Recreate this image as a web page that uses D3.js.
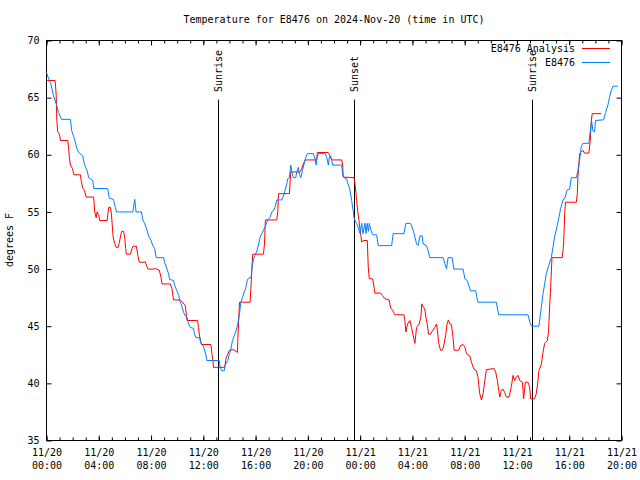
<!DOCTYPE html>
<html><head><meta charset="utf-8">
<script src="https://cdn.jsdelivr.net/npm/d3@7"></script>
<style>
body{margin:0;background:#fff;}
svg text{font-family:"DejaVu Sans Mono",monospace;font-size:10px;fill:#000;}
</style></head>
<body><svg id="c" width="640" height="480"></svg>
<script>
const titleText = "Temperature for E8476 on 2024-Nov-20 (time in UTC)";
const yLabel = "degrees F";
const yTicks = [35,40,45,50,55,60,65,70];
const seriesNames = ["E8476 Analysis","E8476"];
const seriesColors = ["#ff0000","#0080ff"];
const eventNames = ["Sunrise","Sunset","Sunrise"];
const eventHours = [13.14,23.53,37.13];
// hours since 2024-11-20 00:00 UTC
const obsHours = [0.00,0.15,0.31,0.53,0.76,0.92,1.15,1.83,1.93,2.14,2.31,2.47,2.77,2.90,3.11,3.23,3.54,3.61,4.68,4.81,5.12,5.27,5.35,6.61,6.75,6.85,7.26,7.39,7.51,7.69,7.81,8.00,8.12,8.27,8.40,8.96,9.04,9.22,9.34,9.42,9.72,9.80,9.98,10.11,10.24,10.37,10.49,10.62,10.75,10.87,11.00,11.25,11.33,11.44,11.76,11.82,12.02,12.22,12.27,13.22,13.29,13.42,13.60,13.67,13.88,14.00,14.11,14.23,14.38,14.51,14.64,14.77,14.87,15.00,15.13,15.26,15.38,15.66,15.74,15.84,15.97,16.10,16.22,16.35,16.48,16.60,16.73,16.86,16.98,17.11,17.24,17.36,17.49,17.62,18.00,18.13,18.26,18.39,18.46,18.59,18.69,18.77,18.89,19.07,19.15,19.27,19.35,19.46,19.58,19.71,19.84,19.96,20.42,20.55,20.63,20.68,20.80,21.31,21.44,21.57,21.64,21.75,21.82,21.90,22.59,22.66,22.76,22.97,23.05,23.15,23.22,23.35,23.47,23.53,23.60,23.73,23.83,23.99,24.12,24.22,24.37,24.45,24.54,24.63,24.70,24.83,24.96,25.26,25.39,26.41,26.53,27.35,27.50,27.86,28.06,28.19,28.32,28.44,28.57,28.75,28.82,29.08,29.20,29.33,30.35,30.48,30.61,30.73,31.04,31.17,31.88,32.01,32.19,32.39,32.44,32.85,32.95,33.02,34.43,34.51,34.61,36.85,36.92,37.03,37.13,37.68,37.87,37.99,38.12,38.25,38.42,38.63,38.75,38.88,39.06,39.21,39.34,39.52,39.70,39.82,40.03,40.16,40.54,40.66,40.79,40.92,41.04,41.50,41.61,41.71,41.81,41.94,42.01,42.63,42.78,42.95,43.08,43.21,43.34,43.72];
const obsTemps = [67.2,66.7,66.3,65.2,64.4,63.7,63.1,63.1,62.1,61.4,60.6,60.2,59.9,59.2,58.6,58.0,57.75,57.05,57.05,56.2,56.1,55.4,55.0,55.0,56.1,55.0,55.0,54.25,54.0,53.4,52.9,52.5,52.1,51.8,51.0,51.0,50.6,50.0,49.6,49.1,49.0,48.6,48.1,47.7,47.1,46.7,46.2,45.9,45.8,45.2,44.9,44.8,44.3,44.0,44.0,43.5,43.2,42.4,42.0,42.0,41.4,41.1,41.1,41.6,42.0,42.6,43.0,43.75,44.2,44.6,45.2,46.1,47.1,47.5,48.0,48.4,49.1,49.3,50.2,50.9,51.2,51.6,52.1,52.8,53.1,53.4,53.7,54.1,54.4,54.55,55.0,55.1,55.4,56.05,56.05,56.4,56.9,57.5,57.9,58.0,59.1,58.5,58.0,58.0,58.5,58.9,58.3,58.0,58.6,59.2,59.8,60.1,60.1,59.65,59.1,59.65,60.1,60.1,59.8,59.1,59.8,59.9,59.5,59.1,59.1,58.3,58.0,57.9,57.5,57.2,56.9,56.0,55.1,54.5,54.25,54.0,53.7,53.1,54.0,53.1,54.0,53.1,54.0,53.3,54.0,53.4,53.0,53.0,52.05,52.05,53.1,53.1,54.0,54.0,53.4,52.8,52.2,52.05,52.9,52.9,52.2,52.05,51.6,51.0,51.0,50.5,50.0,51.0,51.0,50.0,50.0,49.15,49.0,48.3,48.1,48.1,47.4,47.1,47.1,46.5,46.0,46.0,45.65,45.2,45.0,45.0,46.7,47.8,48.7,49.6,50.3,51.0,51.9,52.8,53.7,54.5,55.3,56.0,56.3,56.9,57.0,58.0,58.0,58.6,59.5,60.7,61.0,61.0,62.1,63.0,62.1,62.0,63.0,63.06,63.7,64.3,65.0,65.6,66.0,66.0];
const anaHours = [0.05,0.66,0.74,0.79,0.86,0.99,1.07,1.63,1.70,1.76,1.83,1.99,2.09,2.60,2.65,2.77,2.90,3.03,3.61,3.69,3.80,3.87,4.00,4.07,4.64,4.68,4.76,4.89,4.97,5.04,5.10,5.19,5.32,5.48,5.58,5.65,5.75,5.90,5.98,6.06,6.11,6.42,6.55,6.62,6.88,6.97,7.10,7.49,7.56,7.69,7.77,8.20,8.33,8.63,8.76,8.84,9.47,9.60,9.72,10.24,10.62,10.75,11.56,11.63,11.76,11.89,12.58,12.66,12.73,12.78,13.64,13.73,13.81,14.00,14.31,14.51,14.61,14.64,14.69,14.77,15.58,15.64,15.71,15.78,16.60,16.68,16.75,17.62,17.70,17.75,18.59,18.64,18.69,19.40,19.53,19.66,19.79,20.68,20.72,21.56,21.69,21.82,22.59,22.66,22.71,23.53,23.60,23.68,23.73,23.81,23.91,23.99,24.06,24.12,24.24,24.55,24.62,24.70,24.96,25.08,25.13,25.57,25.69,25.90,26.22,26.33,26.48,26.66,27.35,27.42,27.50,27.63,27.81,27.93,28.11,28.19,28.32,28.52,28.65,28.72,28.82,28.95,29.03,29.13,29.24,29.39,29.54,29.72,29.85,29.92,30.00,30.15,30.30,30.40,30.56,30.65,30.76,30.86,30.99,31.11,31.19,31.55,31.68,31.88,32.01,32.14,32.39,32.52,32.70,32.90,33.02,33.15,33.28,33.41,33.54,33.66,34.24,34.37,34.50,34.68,34.81,34.93,35.06,35.19,35.39,35.57,35.70,35.83,35.96,36.08,36.21,36.42,36.51,36.64,36.84,36.97,37.05,37.35,37.48,37.61,37.68,37.87,37.99,38.12,38.33,38.42,38.50,38.58,38.68,39.47,39.57,39.65,39.72,40.54,40.62,40.66,40.74,40.79,41.04,41.17,41.50,41.61,41.69,41.76,42.45];
const anaTemps = [66.5,66.5,65.3,63.0,62.0,61.8,61.25,61.25,60.5,59.65,59.1,58.8,58.25,58.25,57.75,57.1,56.9,56.3,56.3,55.0,54.5,55.0,54.7,54.25,54.25,54.7,55.4,55.4,54.8,53.7,52.8,52.35,51.9,51.9,52.35,52.8,53.3,53.3,52.8,51.8,51.3,51.3,51.8,52.0,52.0,51.3,50.6,50.6,50.65,50.2,50.0,50.0,50.05,49.9,49.3,48.7,48.7,48.3,47.3,47.3,46.8,45.5,45.5,44.9,43.75,43.4,43.4,42.6,42.0,41.4,41.4,42.15,42.4,42.9,42.95,42.8,42.7,43.75,45.2,47.1,47.1,48.3,49.9,51.3,51.3,52.2,54.3,54.3,55.0,56.6,56.6,57.6,58.5,58.5,58.8,59.2,59.55,59.55,60.2,60.2,59.9,59.55,59.55,59.1,58.05,58.0,57.5,56.7,56.0,55.1,54.25,53.5,52.9,52.35,52.5,52.5,50.2,49.15,49.15,48.3,47.9,47.9,47.7,47.4,47.3,46.6,46.4,46.0,46.0,45.5,44.5,45.2,45.5,44.9,43.9,43.5,44.9,45.2,45.8,46.96,46.7,46.5,45.8,45.2,44.3,44.3,44.6,44.9,45.2,44.6,43.6,42.9,42.9,43.3,44.3,45.2,45.55,45.2,45.15,44.0,42.9,42.9,43.3,43.4,43.2,42.6,42.4,41.85,41.25,41.1,40.5,39.1,38.55,39.1,40.25,41.2,41.3,41.0,40.25,38.8,39.4,39.5,39.2,38.8,38.8,39.7,40.7,40.25,40.55,40.7,40.25,40.1,38.65,40.1,40.1,39.7,38.65,38.65,39.1,40.25,41.1,41.7,42.7,43.5,43.75,44.6,46.7,48.4,51.0,51.0,52.2,54.8,55.85,55.85,56.6,58.05,59.1,60.1,60.4,60.15,60.15,61.25,63.0,63.6,63.6];

const t0 = Date.UTC(2024,10,20,0,0);
const toDate = h => new Date(t0 + h*3600000);
const obs = obsHours.map((h,i)=>({t:toDate(h),v:obsTemps[i]}));
const ana = anaHours.map((h,i)=>({t:toDate(h),v:anaTemps[i]}));

const L=46.5, R=621.5, T=40.5, B=440.5;
const svg = d3.select("#c");
const x = d3.scaleUtc().domain([toDate(0), toDate(44)]).range([L,R]);
const y = d3.scaleLinear().domain([35,70]).range([B,T]);

// title
svg.append("text").attr("x",334).attr("y",23).attr("text-anchor","middle").text(titleText);
// y label
svg.append("text").attr("transform","translate(13,240) rotate(-90)").attr("text-anchor","middle").text(yLabel);

// frame
svg.append("rect").attr("x",L).attr("y",T).attr("width",R-L).attr("height",B-T)
  .attr("fill","none").attr("stroke","#000").attr("stroke-width",1);

const majorTicks = d3.utcHour.every(4).range(toDate(0), toDate(44.01));
const minorTicks = d3.utcHour.every(1).range(toDate(0), toDate(44.01));

// bottom axis with inward ticks
const gx = svg.append("g").attr("transform",`translate(0,${B})`);
gx.call(d3.axisBottom(x).tickValues(minorTicks).tickSize(-3).tickFormat(""));
gx.call(g=>g.select(".domain").remove());
const gx2 = svg.append("g").attr("transform",`translate(0,${B})`);
gx2.call(d3.axisBottom(x).tickValues(majorTicks).tickSizeInner(-5).tickSizeOuter(0).tickPadding(9)
   .tickFormat(d3.utcFormat("%m/%d")));
gx2.select(".domain").remove();
gx2.selectAll(".tick text").each(function(d){
  const t=d3.select(this); t.text(null);
  t.append("tspan").attr("x",0).attr("dy","0.71em").text(d3.utcFormat("%m/%d")(d));
  t.append("tspan").attr("x",0).attr("dy","13px").text(d3.utcFormat("%H:%M")(d));
}).attr("y",8).attr("dy",null);
// top mirrored ticks
const gt = svg.append("g").attr("transform",`translate(0,${T})`);
gt.call(d3.axisTop(x).tickValues(minorTicks).tickSize(-3).tickFormat(""));
gt.select(".domain").remove();
const gt2 = svg.append("g").attr("transform",`translate(0,${T})`);
gt2.call(d3.axisTop(x).tickValues(majorTicks).tickSize(-5).tickFormat(""));
gt2.select(".domain").remove();

// left axis
const gy = svg.append("g").attr("transform",`translate(${L},0)`);
gy.call(d3.axisLeft(y).tickValues(yTicks).tickSizeInner(-5).tickSizeOuter(0).tickPadding(7).tickFormat(d3.format("d")));
gy.select(".domain").remove();
const gyr = svg.append("g").attr("transform",`translate(${R},0)`);
gyr.call(d3.axisRight(y).tickValues(yTicks).tickSize(-5).tickFormat(""));
gyr.select(".domain").remove();
svg.selectAll(".tick line").attr("stroke","#000");
svg.selectAll(".tick text").attr("fill","#000").style("font-size","10px").style("font-family","DejaVu Sans Mono, monospace");

// event lines
const ev = svg.append("g");
eventHours.forEach((h,i)=>{
  const xx = Math.round(x(toDate(h)))+0.5;
  ev.append("line").attr("x1",xx).attr("x2",xx).attr("y1",y(65)+2).attr("y2",B)
    .attr("stroke","#000").attr("stroke-width",1);
  ev.append("text").attr("transform",`translate(${xx+3.5},92) rotate(-90)`).attr("text-anchor","start").text(eventNames[i]);
});

// series
const line = d3.line().x(d=>x(d.t)).y(d=>y(d.v));
svg.append("path").datum(ana).attr("d",line).attr("fill","none").attr("stroke",seriesColors[0]).attr("stroke-width",1);
svg.append("path").datum(obs).attr("d",line).attr("fill","none").attr("stroke",seriesColors[1]).attr("stroke-width",1);

// legend
const lg = svg.append("g").attr("class","legend");
seriesNames.forEach((n,i)=>{
  const yy = 48 + i*14;
  lg.append("text").attr("x",575).attr("y",yy+3.5).attr("text-anchor","end").text(n);
  lg.append("rect").attr("x",582).attr("y",yy).attr("width",28).attr("height",1)
    .style("fill",seriesColors[i]).style("stroke","none");
});
</script></body></html>
